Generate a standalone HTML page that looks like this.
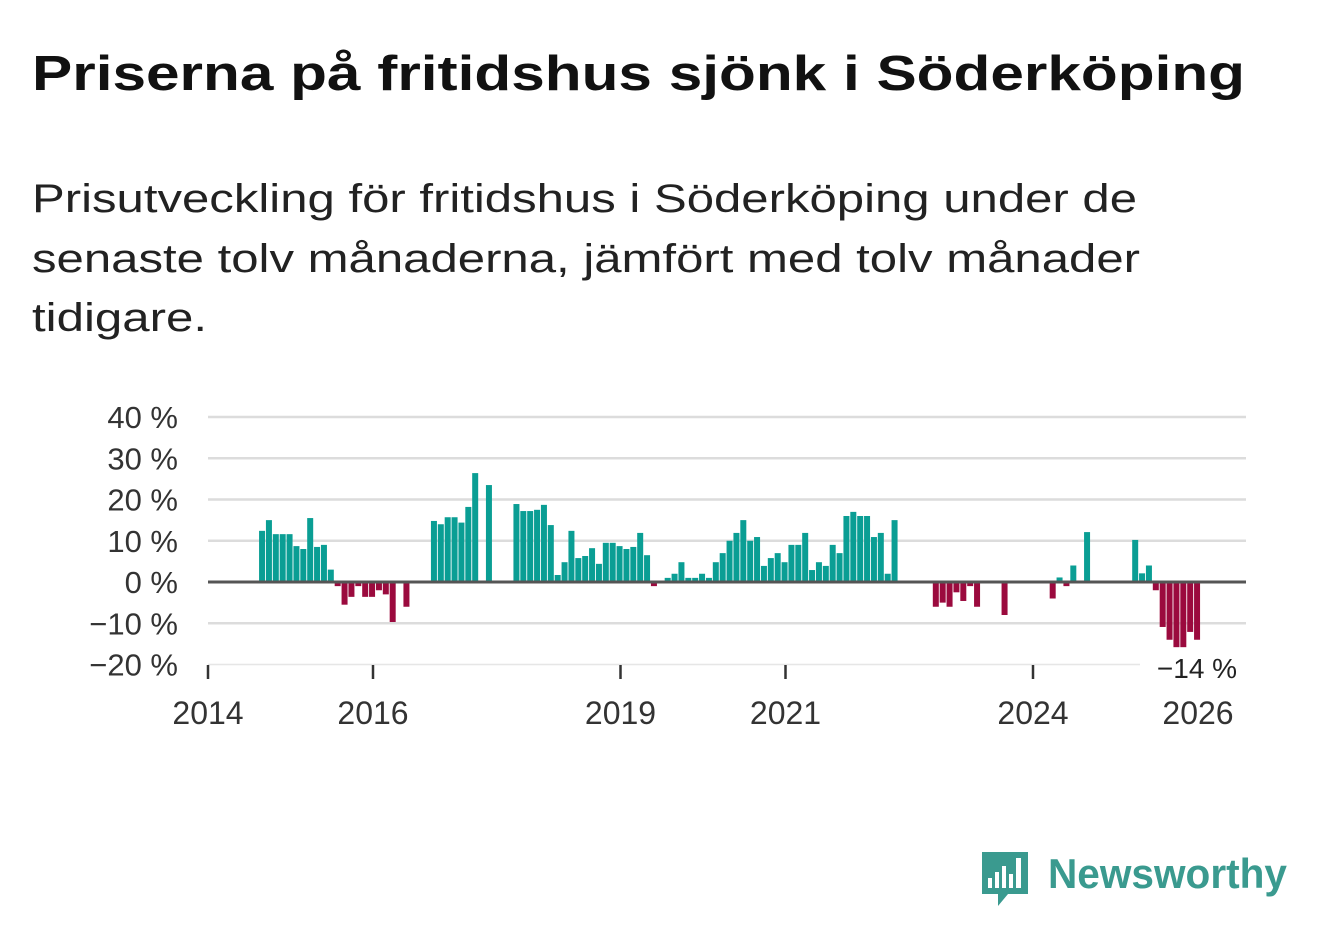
<!DOCTYPE html>
<html><head><meta charset="utf-8"><style>
body{margin:0;background:#fff;}
svg{display:block;font-family:"Liberation Sans",sans-serif;}
</style></head><body>
<svg width="1322" height="939" viewBox="0 0 1322 939">
<text x="32" y="90" font-size="49" font-weight="bold" fill="#111" textLength="1213" lengthAdjust="spacingAndGlyphs">Priserna på fritidshus sjönk i Söderköping</text>
<g font-size="40" fill="#222">
<text x="32" y="212" textLength="1105" lengthAdjust="spacingAndGlyphs">Prisutveckling för fritidshus i Söderköping under de</text>
<text x="32" y="272" textLength="1108" lengthAdjust="spacingAndGlyphs">senaste tolv månaderna, jämfört med tolv månader</text>
<text x="32" y="331" textLength="175" lengthAdjust="spacingAndGlyphs">tidigare.</text>
</g>
<g id="grid"></g>
<g id="bars"></g>
<g id="axes"></g>
<g>
<path d="M982 852 h46 v42 h-20 l-10 12 v-12 h-16 z" fill="#3a9a8f"/>
<rect x="988" y="878" width="4" height="10" fill="#fff"/>
<rect x="995" y="872" width="4" height="16" fill="#fff"/>
<rect x="1002" y="866" width="4" height="22" fill="#fff"/>
<rect x="1009" y="874" width="4" height="14" fill="#fff"/>
<rect x="1016" y="858" width="5" height="30" fill="#fff"/>
<text x="1048" y="888" font-size="42" font-weight="bold" fill="#3a9a8f" textLength="239" lengthAdjust="spacingAndGlyphs">Newsworthy</text>
</g>
</svg>
<script>
const startMonth = 7; // Aug 2014 index (months since Jan 2014)
const values = [12.4,15,11.6,11.6,11.6,8.7,8,15.5,8.5,9,3,-1,-5.5,-3.6,-1,-3.6,-3.6,-2,-3,-9.7,null,-6,
null,null,null,14.8,14,15.7,15.7,14.4,18.2,26.4,null,23.5,null,null,null,
18.9,17.2,17.2,17.5,18.7,13.8,1.7,4.8,12.4,5.8,6.3,8.2,4.4,9.5,9.5,8.7,8,8.5,11.9,6.5,-1,null,
1,2,4.8,1,1,2,1,4.8,7,10,11.9,15,10,10.9,3.9,5.8,7,4.8,9,9,11.9,2.9,4.8,3.9,9,7,16,17,16,16,10.9,11.9,2,15,
null,null,null,null,null,-6,-5,-6,-2.5,-4.6,-1,-6,null,null,null,-8,
null,null,null,null,null,null,-4,1.1,-1,4,null,12.1,null,null,null,null,null,null,
10.2,2.1,4,-2,-10.9,-14,-15.8,-15.8,-12.1,-14];
const yTicks = [40,30,20,10,0,-10,-20];
const yTickLabels = ["40 %","30 %","20 %","10 %","0 %","\u221210 %","\u221220 %"];
const xTickYears = [2014,2016,2019,2021,2024,2026];
const lastLabel = "\u221214 %";

const NS="http://www.w3.org/2000/svg";
const x0=208, pxPerMonth=6.875, zeroY=582, pxPerPct=4.125, right=1246;
const yS=v=>zeroY - v*pxPerPct;
const xM=m=>x0 + m*pxPerMonth;
function mk(tag,attrs,parent){const e=document.createElementNS(NS,tag);for(const k in attrs)e.setAttribute(k,attrs[k]);parent.appendChild(e);return e;}
const grid=document.getElementById('grid'), bars=document.getElementById('bars'), axes=document.getElementById('axes');
yTicks.forEach((t,i)=>{
  if(t!==0&&t!==-20){const l=mk('line',{x1:x0,x2:right,y1:yS(t),y2:yS(t),stroke:'#dcdcdc','stroke-width':2.5},grid);
  
  }
  const tx=mk('text',{x:178,y:yS(t)+11,'font-size':31,fill:'#333','text-anchor':'end'},axes);
  tx.textContent=yTickLabels[i];
  
  
});
const bl=mk('line',{x1:x0,x2:1140,y1:yS(-20),y2:yS(-20),stroke:'#e6e6e6','stroke-width':1.5},grid);


values.forEach((v,i)=>{
  if(v===null)return;
  const m=startMonth+i;
  const y=v>=0?yS(v):zeroY, h=Math.abs(v)*pxPerPct;
  const r=mk('rect',{x:xM(m+0.5)-0.5,y:y,width:6,height:Math.max(h,1),fill:v>=0?'#0a9e94':'#9b0a3e'},bars);
  
  
});
const zl=mk('line',{x1:x0,x2:right,y1:zeroY,y2:zeroY,stroke:'#555','stroke-width':3},axes);


xTickYears.forEach(yr=>{
  const x=xM((yr-2014)*12);
  const tk=mk('line',{x1:x,x2:x,y1:665,y2:679,stroke:'#333','stroke-width':2.5},axes);
  
  
  const t=mk('text',{x:x,y:724,'font-size':32,fill:'#333','text-anchor':'middle'},axes);
  t.textContent=String(yr);
  
  
});
const lastV=values[values.length-1];
const ly=Math.max(yS(lastV)+38,677);
const bg=mk('rect',{x:1150,y:ly-26,width:94,height:32,fill:'#fff'},axes);


const lt=mk('text',{x:1197,y:ly,'font-size':28,fill:'#222','text-anchor':'middle'},axes);
lt.textContent=lastLabel;


</script>
</body></html>
